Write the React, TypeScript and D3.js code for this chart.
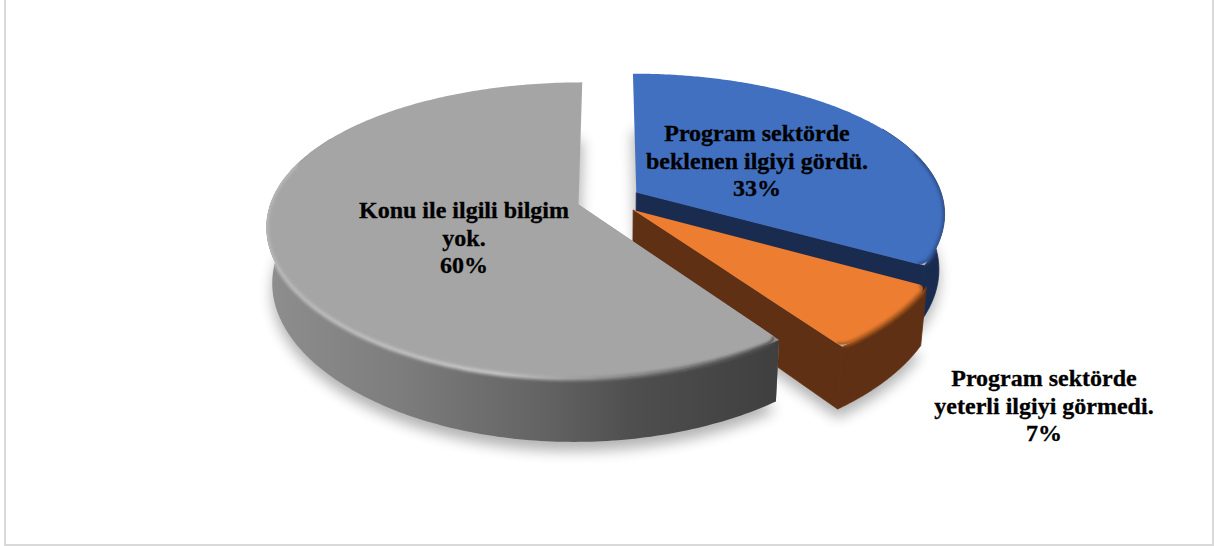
import * as d3 from "d3";

const WIDTH = 1214;
const HEIGHT = 546;

// values
const categories = [
  "Program sektörde beklenen ilgiyi gördü.",
  "Program sektörde yeterli ilgiyi görmedi.",
  "Konu ile ilgili bilgim yok.",
];
const shares = [33, 7, 60];

const topColors = ["#4170c0", "#ed7d31", "#a5a5a5"];
const wallColors = ["#1a2b50", "#5f3013", "url(#grayWall)"];
const rimColors = ["#2d4f8e", "#a9591f", "url(#grayRim)"];

const labelLines = [
  ["Program sektörde", "beklenen ilgiyi gördü.", "33%"],
  ["Program sektörde", "yeterli ilgiyi görmedi.", "7%"],
  ["Konu ile ilgili bilgim", "yok.", "60%"],
];
const labelX = [757, 1044, 464];
const labelY = [141, 386, 218];
const LINE_HEIGHT = 27.6;

// camera of the tilted pie
const CX = 609;
const CY = 200;
const RX = 307;
const RY = 142;
const TILT_Y = 0.174;
const TILT_X = 0.14;
const DROP = 56;
const SHRINK = 0.017;
const EXPLODE = 0.104;

// bevel at the front corners of a top face
const CORNER_ANGLE = 0.05;
const CORNER_INSET = 0.022;

type Pt = [number, number];

// u along x, v toward the viewer, z = 0 top face, z = 1 bottom face
function project(u: number, v: number, z: number): Pt {
  return [
    CX + (RX * u) / (1 - TILT_X * v + SHRINK * z),
    CY + (RY * v + DROP * z) / (1 - TILT_Y * v + SHRINK * z),
  ];
}

const line = d3.line<Pt>().curve(d3.curveLinear);

const arcs = d3
  .pie<number>()
  .sort(null)
  .value((d) => d)(shares);

function App() {
  const slices = arcs.map((a, i) => {
    const mid = (a.startAngle + a.endAngle) / 2;
    const ox = EXPLODE * Math.sin(mid);
    const oy = -EXPLODE * Math.cos(mid);
    const at = (angle: number, r: number, z: number) =>
      project(ox + r * Math.sin(angle), oy - r * Math.cos(angle), z);
    const angles = d3
      .range(0, 241)
      .map((k) => a.startAngle + ((a.endAngle - a.startAngle) * k) / 240);
    // top face radius, pulled in near a corner that faces the viewer
    const topRadius = (t: number) => {
      if (Math.cos(t) > 0) return 1;
      const d = Math.min(t - a.startAngle, a.endAngle - t);
      if (d >= CORNER_ANGLE) return 1;
      const q = 1 - d / CORNER_ANGLE;
      return 1 - CORNER_INSET * (1 - Math.sqrt(1 - q * q));
    };
    const apexTop = at(0, 0, 0);
    const apexBottom = at(0, 0, 1);
    const topArc = angles.map((t) => at(t, topRadius(t), 0));
    const bottomArc = angles.map((t) => at(t, 1, 1));
    const top = line([apexTop, ...topArc])! + "Z";
    const bottom = line([apexBottom, ...bottomArc])! + "Z";
    // far part of the wall stays hidden behind the top face
    const near = angles.filter((t) => Math.cos(t) < 0.5);
    const outer =
      line([
        ...near.map((t) => at(t, 1, 0)),
        ...[...near].reverse().map((t) => at(t, 1, 1)),
      ])! + "Z";
    const startWall =
      line([apexTop, at(a.startAngle, 1, 0), at(a.startAngle, 1, 1), apexBottom])! + "Z";
    const endWall =
      line([apexTop, at(a.endAngle, 1, 0), at(a.endAngle, 1, 1), apexBottom])! + "Z";
    // the bevel only catches the eye on the near half of the rim
    const rim = line(
      angles.filter((t) => Math.cos(t) < 0.3).map((t) => at(t, topRadius(t), 0))
    )!;
    return { i, top, bottom, outer, startWall, endWall, rim };
  });

  return (
    <svg
      width={WIDTH}
      height={HEIGHT}
      style={{ position: "absolute", left: 0, top: 0, background: "#fff" }}
    >
      <defs>
        <filter id="ground" x="-20%" y="-20%" width="140%" height="140%">
          <feGaussianBlur stdDeviation="7" />
        </filter>
        <filter id="soft" x="-10%" y="-10%" width="120%" height="120%">
          <feGaussianBlur stdDeviation="1.6" />
        </filter>
        <linearGradient id="grayWall" gradientUnits="userSpaceOnUse" x1="266" x2="780" y1="0" y2="0">
          <stop offset="0" stopColor="#8e8e8e" />
          <stop offset="0.26" stopColor="#7d7d7d" />
          <stop offset="0.55" stopColor="#626262" />
          <stop offset="0.72" stopColor="#4e4e4e" />
          <stop offset="1" stopColor="#3f3f3f" />
        </linearGradient>
        <linearGradient id="grayRim" gradientUnits="userSpaceOnUse" x1="266" x2="780" y1="0" y2="0">
          <stop offset="0" stopColor="#b8b8b8" />
          <stop offset="0.45" stopColor="#c6c6c6" />
          <stop offset="0.68" stopColor="#8a8a8a" />
          <stop offset="1" stopColor="#4a4a4a" />
        </linearGradient>
        {slices.map((s) => (
          <clipPath id={`body${s.i}`} key={s.i}>
            <path d={s.top} />
            <path d={s.outer} />
          </clipPath>
        ))}
      </defs>

      <path d="M5,0V545H1213V0" fill="none" stroke="#d9d9d9" strokeWidth={2} />

      {slices.map((s) => (
        <path
          key={s.i}
          d={s.bottom}
          transform="translate(0,9)"
          fill="#000"
          opacity={0.3}
          filter="url(#ground)"
        />
      ))}

      {slices.map((s) => (
        <g key={s.i}>
          {s.i === 2 && <path d={s.startWall} fill="#8c8c8c" />}
          {s.i !== 2 && (
            <path d={s.endWall} fill={wallColors[s.i]} stroke={wallColors[s.i]} strokeWidth={0.8} />
          )}
          <path
            d={s.outer}
            fill={wallColors[s.i]}
            stroke={s.i !== 2 ? wallColors[s.i] : "none"}
            strokeWidth={0.8}
          />
          <path d={s.top} fill={topColors[s.i]} />
          <g clipPath={`url(#body${s.i})`}>
            <path
              d={s.rim}
              fill="none"
              stroke={rimColors[s.i]}
              strokeWidth={4}
              filter="url(#soft)"
            />
          </g>
        </g>
      ))}

      {labelLines.map((lines, i) => (
        <text
          key={categories[i]}
          x={labelX[i]}
          y={labelY[i]}
          textAnchor="middle"
          fontFamily="'Liberation Serif', serif"
          fontWeight="bold"
          fontSize={24}
          fill="#000"
          stroke="#000"
          strokeWidth={0.3}
        >
          {lines.map((t, k) => (
            <tspan key={k} x={labelX[i]} y={labelY[i] + k * LINE_HEIGHT}>
              {t}
            </tspan>
          ))}
        </text>
      ))}
    </svg>
  );
}

export default App;
